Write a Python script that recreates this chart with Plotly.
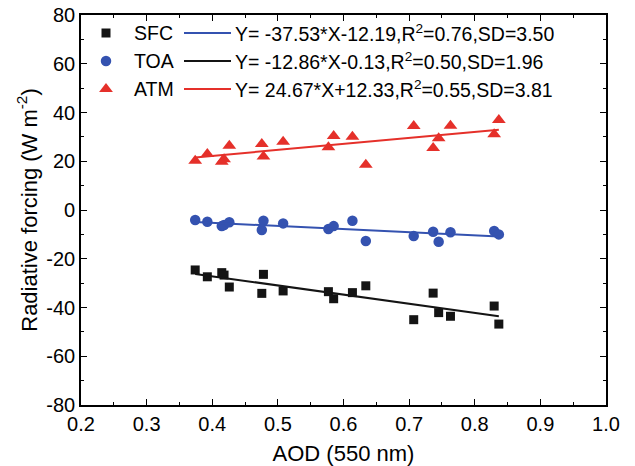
import plotly.graph_objects as go

# AOD at 550 nm for each case
aod = [0.374, 0.3925, 0.4145, 0.418, 0.426, 0.4755, 0.478, 0.508, 0.577,
       0.585, 0.6136, 0.634, 0.707, 0.7366, 0.745, 0.763, 0.8296, 0.8367]

# Radiative forcing (W m-2)
sfc = [-24.6, -27.4, -25.7, -26.7, -31.6, -34.2, -26.4, -33.2, -33.5,
       -36.4, -33.9, -31.1, -45.0, -34.1, -42.1, -43.6, -39.4, -46.8]
toa = [-4.1, -4.8, -6.6, -6.2, -5.0, -8.2, -4.4, -5.5, -7.8,
       -6.6, -4.4, -12.7, -10.7, -8.9, -13.0, -9.1, -8.6, -10.0]
atm = [20.2, 23.0, 19.8, 20.8, 26.4, 27.1, 21.9, 28.0, 25.7,
       30.4, 30.1, 18.6, 34.5, 25.4, 29.4, 34.6, 31.1, 36.9]

# Linear fits: slope, intercept, R2, SD
fit_sfc = (-37.53, -12.19, 0.76, 3.50)
fit_toa = (-12.86, -0.13, 0.50, 1.96)
fit_atm = (24.67, 12.33, 0.55, 3.81)

series_names = ["SFC", "TOA", "ATM"]

x_ticks = [0.2, 0.3, 0.4, 0.5, 0.6, 0.7, 0.8, 0.9, 1.0]
x_ticktext = ["0.2", "0.3", "0.4", "0.5", "0.6", "0.7", "0.8", "0.9", "1.0"]
y_ticks = [-80, -60, -40, -20, 0, 20, 40, 60, 80]
y_ticktext = ["-80", "-60", "-40", "-20", "0", "20", "40", "60", "80"]

BLACK = "#141414"
BLUE = "#3452B0"
RED = "#E5302A"
FONT = "Liberation Sans, Arial, sans-serif"


def eq_text(fit):
    a, b, r2, sd = fit
    sign = "+" if b >= 0 else "-"
    return "Y= %.2f*X%s%.2f,R<sup>2</sup>=%.2f,SD=%.2f" % (a, sign, abs(b), r2, sd)


fig = go.Figure()

point_styles = [
    (sfc, dict(symbol="square", size=9, color=BLACK)),
    (toa, dict(symbol="circle", size=10.5, color=BLUE)),
    (atm, dict(symbol="triangle-up", size=12, color=RED)),
]
for vals, mk in point_styles:
    fig.add_trace(go.Scatter(x=aod, y=vals, mode="markers", marker=mk,
                             showlegend=False, hoverinfo="skip"))

# Fit lines over the AOD range of the data
x0, x1 = min(aod), max(aod)
for fit, col in [(fit_sfc, BLACK), (fit_toa, BLUE), (fit_atm, RED)]:
    a, b = fit[0], fit[1]
    fig.add_trace(go.Scatter(x=[x0, x1], y=[a * x0 + b, a * x1 + b], mode="lines",
                             line=dict(color=col, width=2), showlegend=False,
                             hoverinfo="skip"))

# Key in the upper left, laid out on a helper axis measured in pixels
key_rows = [
    ("SFC", dict(symbol="square", size=9, color=BLACK), BLUE, fit_sfc),
    ("TOA", dict(symbol="circle", size=10.5, color=BLUE), BLACK, fit_toa),
    ("ATM", dict(symbol="triangle-up", size=12, color=RED), RED, fit_atm),
]
row_y = [372, 344, 316]
for (name, mk, lcol, fit), yy in zip(key_rows, row_y):
    fig.add_trace(go.Scatter(x=[25], y=[yy], mode="markers", marker=mk,
                             xaxis="x2", yaxis="y2", showlegend=False,
                             hoverinfo="skip"))
    fig.add_trace(go.Scatter(x=[103, 150], y=[yy, yy], mode="lines",
                             line=dict(color=lcol, width=2), xaxis="x2",
                             yaxis="y2", showlegend=False, hoverinfo="skip"))
    fig.add_annotation(x=51, y=yy, xref="x2", yref="y2", text=name,
                       showarrow=False, xanchor="left", yanchor="middle",
                       font=dict(family=FONT, size=19.5, color="black"))
    fig.add_annotation(x=152, y=yy, xref="x2", yref="y2", text=eq_text(fit),
                       showarrow=False, xanchor="left", yanchor="middle",
                       font=dict(family=FONT, size=19.5, color="black"))

axis_common = dict(showline=True, linecolor="black", linewidth=1.6,
                   mirror="ticks", ticks="inside", ticklen=6, tickwidth=1.4,
                   tickcolor="black", showgrid=False, zeroline=False,
                   automargin=False,
                   tickfont=dict(family=FONT, size=20, color="black"))

fig.update_layout(
    width=635, height=466,
    margin=dict(l=81, r=29, t=15, b=61),
    paper_bgcolor="white", plot_bgcolor="white",
    xaxis=dict(range=[0.2, 1.0], tickvals=x_ticks, ticktext=x_ticktext,
               minor=dict(ticks="inside", ticklen=3, tickwidth=1.2,
                          tickcolor="black", dtick=0.05, tick0=0.2),
               title=dict(text="AOD (550 nm)", standoff=13,
                          font=dict(family=FONT, size=22, color="black")),
               **axis_common),
    yaxis=dict(range=[-80, 80], tickvals=y_ticks, ticktext=y_ticktext,
               minor=dict(ticks="inside", ticklen=3, tickwidth=1.2,
                          tickcolor="black", dtick=10, tick0=0),
               title=dict(text="Radiative forcing (W m<sup>-2</sup>)", standoff=3,
                          font=dict(family=FONT, size=22, color="black")),
               **axis_common),
    xaxis2=dict(range=[0, 525], overlaying="x", visible=False, fixedrange=True),
    yaxis2=dict(range=[0, 390], overlaying="y", visible=False, fixedrange=True),
    showlegend=False,
)

fig.write_html("out.html")
